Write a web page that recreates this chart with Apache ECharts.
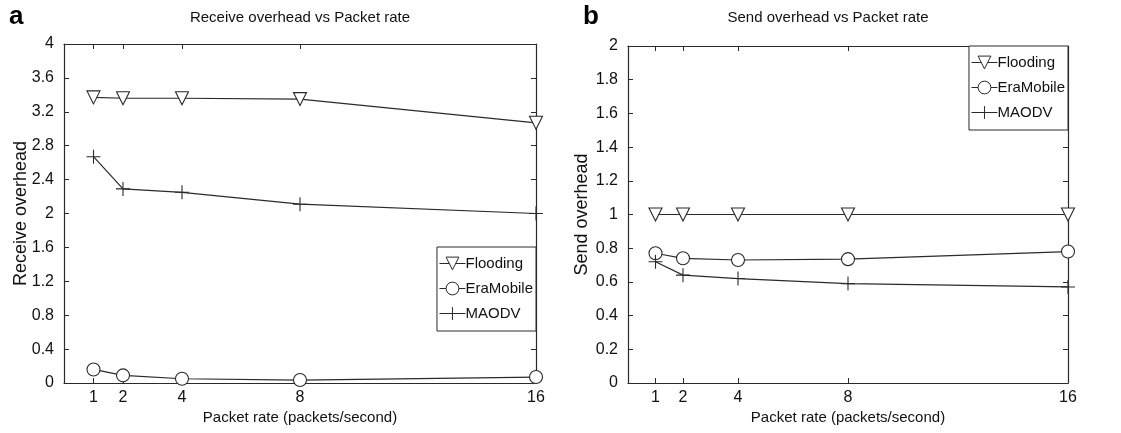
<!DOCTYPE html>
<html><head><meta charset="utf-8">
<script src="https://cdn.jsdelivr.net/npm/echarts@6/dist/echarts.min.js"></script>
<style>html,body{margin:0;padding:0;background:#fff}#c{width:1121px;height:433px}</style>
</head><body><div id="c"></div>
<script>
const packetRates = [1, 2, 4, 8, 16];
const seriesNames = ['Flooding', 'EraMobile', 'MAODV'];
const recvFlooding = [3.37, 3.36, 3.36, 3.35, 3.07];
const recvEraMobile = [0.16, 0.09, 0.05, 0.035, 0.07];
const recvMAODV = [2.67, 2.29, 2.25, 2.11, 2.00];
const sendFlooding = [1.0, 1.0, 1.0, 1.0, 1.0];
const sendEraMobile = [0.77, 0.74, 0.73, 0.735, 0.78];
const sendMAODV = [0.72, 0.64, 0.62, 0.59, 0.57];
const titles = ['Receive overhead vs Packet rate', 'Send overhead vs Packet rate'];
const yNames = ['Receive overhead', 'Send overhead'];
const xName = 'Packet rate (packets/second)';

const INK = '#2a2a2a';
const FONT = 'Liberation Sans, Arial, sans-serif';
const symbols = {
  Flooding: {symbol: 'triangle', rotate: 180, size: 13},
  EraMobile: {symbol: 'circle', rotate: 0, size: 13},
  MAODV: {symbol: 'path://M0,5L10,5M5,0L5,10', rotate: 0, size: 14}
};
function pairs(ys) { return packetRates.map((x, i) => [x, ys[i]]); }
function mkSeries(name, ys, idx) {
  const s = symbols[name];
  return {
    name, type: 'line', xAxisIndex: idx * 2, yAxisIndex: idx * 2,
    data: pairs(ys), symbol: s.symbol, symbolRotate: s.rotate, symbolSize: s.size,
    clip: false, showAllSymbol: true,
    lineStyle: {color: INK, width: 1.2},
    itemStyle: {color: '#fff', borderColor: INK, borderWidth: 1.1},
    emphasis: {disabled: true}
  };
}
const grids = [
  {left: 64, top: 44, width: 472, height: 339},
  {left: 628, top: 46, width: 440, height: 337}
];
const yMax = [4, 2], yInt = [0.4, 0.2];
const yNameGap = [34, 37];
const xAxes = [], yAxes = [];
grids.forEach((g, i) => {
  const lineSt = {show: true, onZero: false, lineStyle: {color: INK, width: 1.2}};
  xAxes.push({gridIndex: i, type: 'value', min: 0, max: 16, position: 'bottom',
    axisLine: lineSt, splitLine: {show: false},
    axisTick: {show: true, inside: true, length: 5, customValues: packetRates, lineStyle: {color: INK}},
    axisLabel: {customValues: packetRates, color: '#111', fontFamily: FONT, fontSize: 16, margin: 7},
    name: xName, nameLocation: 'middle', nameGap: 27, nameMoveOverlap: false,
    nameTextStyle: {color: '#111', fontFamily: FONT, fontSize: 15}});
  xAxes.push({gridIndex: i, type: 'value', min: 0, max: 16, position: 'top',
    axisLine: lineSt, splitLine: {show: false},
    axisTick: {show: true, inside: true, length: 5, customValues: packetRates, lineStyle: {color: INK}},
    axisLabel: {show: false}});
  yAxes.push({gridIndex: i, type: 'value', min: 0, max: yMax[i], interval: yInt[i], position: 'left',
    axisLine: lineSt, splitLine: {show: false},
    axisTick: {show: true, inside: true, length: 5, lineStyle: {color: INK}},
    axisLabel: {color: '#111', fontFamily: FONT, fontSize: 16, margin: 10},
    name: yNames[i], nameLocation: 'middle', nameGap: yNameGap[i], nameMoveOverlap: false,
    nameTextStyle: {color: '#111', fontFamily: FONT, fontSize: 18}});
  yAxes.push({gridIndex: i, type: 'value', min: 0, max: yMax[i], interval: yInt[i], position: 'right',
    axisLine: lineSt, splitLine: {show: false},
    axisTick: {show: true, inside: true, length: 5, lineStyle: {color: INK}},
    axisLabel: {show: false}});
});
const series = [
  mkSeries('Flooding', recvFlooding, 0),
  mkSeries('EraMobile', recvEraMobile, 0),
  mkSeries('MAODV', recvMAODV, 0),
  mkSeries('Flooding', sendFlooding, 1),
  mkSeries('EraMobile', sendEraMobile, 1),
  mkSeries('MAODV', sendMAODV, 1)
];
function mkLegend(right, top) {
  return {data: seriesNames, orient: 'vertical', right, top,
    itemWidth: 26, itemHeight: 16, itemGap: 10, padding: [9, 3, 10, 2],
    backgroundColor: '#fff', borderColor: INK, borderWidth: 1, borderRadius: 0,
    selectedMode: false,
    lineStyle: {width: 1},
    itemStyle: {borderWidth: 1},
    textStyle: {color: '#111', fontFamily: FONT, fontSize: 15, padding: [0, 0, 0, -5]}};
}
const option = {
  animation: false,
  backgroundColor: '#fff',
  title: [
    {text: 'a', left: 9, top: 4, padding: 0, textStyle: {fontFamily: FONT, fontSize: 26, fontWeight: 'bold', color: '#000'}},
    {text: 'b', left: 583, top: 4, padding: 0, textStyle: {fontFamily: FONT, fontSize: 26, fontWeight: 'bold', color: '#000'}},
    {text: titles[0], left: 300, textAlign: 'center', top: 10, padding: 0, textStyle: {fontFamily: FONT, fontSize: 15, fontWeight: 'normal', color: '#111'}},
    {text: titles[1], left: 828, textAlign: 'center', top: 10, padding: 0, textStyle: {fontFamily: FONT, fontSize: 15, fontWeight: 'normal', color: '#111'}}
  ],
  legend: [mkLegend(1121 - 536, 247), mkLegend(1121 - 1068, 46)],
  grid: grids,
  xAxis: xAxes,
  yAxis: yAxes,
  series
};
const chart = echarts.init(document.getElementById('c'), null, {renderer: 'canvas'});
chart.setOption(option);
</script></body></html>
